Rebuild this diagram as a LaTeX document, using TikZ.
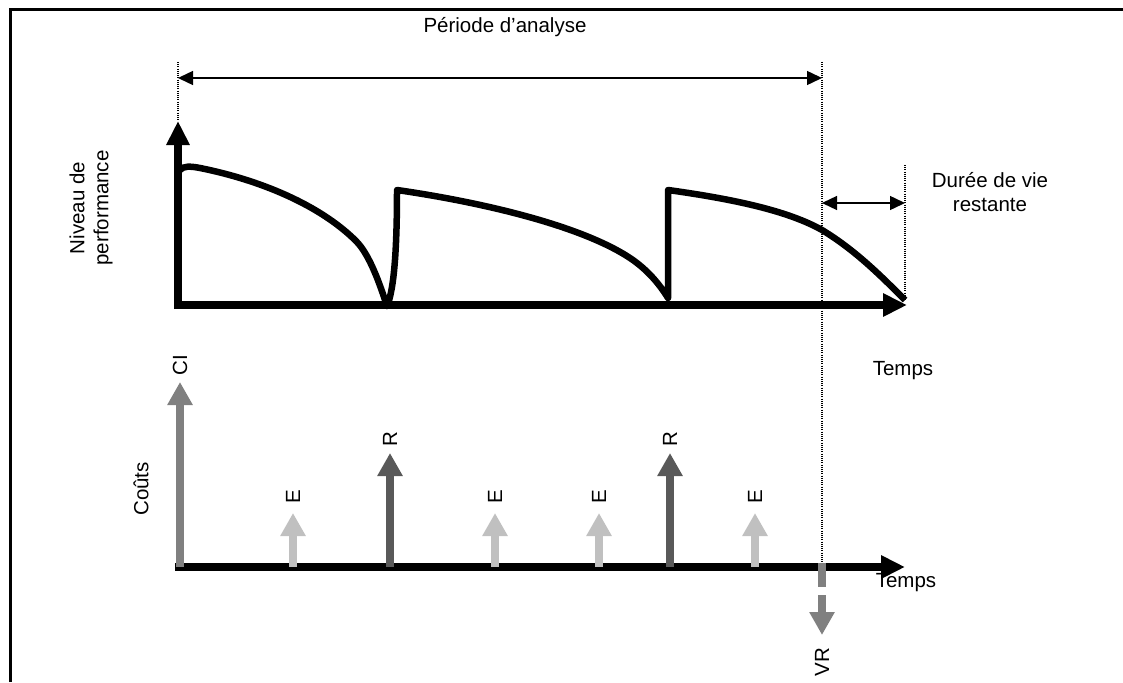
\documentclass[tikz,border=0pt]{standalone}
\usepackage{fontspec}
\setmainfont{Liberation Sans}
\usetikzlibrary{arrows.meta}
\definecolor{cigray}{RGB}{128,128,128}
\definecolor{egray}{RGB}{192,192,192}
\definecolor{rgray}{RGB}{89,89,89}
\begin{document}
\begin{tikzpicture}[x=1pt,y=-1pt,
  lbl/.style={font=\fontsize{20.5}{24}\selectfont, inner sep=0pt, align=center},
  axis/.style={line width=7.5pt, -{Triangle[length=24pt,width=22pt]}},
  perf/.style={line width=6.5pt, line join=round},
  thinarrow/.style={line width=1.4pt, {Triangle[length=15pt,width=14pt]}-{Triangle[length=15pt,width=14pt]}},
  dots/.style={line width=1.4pt, dash pattern=on 1pt off 1.2pt},
  cost/.style={line width=7.5pt, -{Triangle[length=23pt,width=24pt]}},
]
\useasboundingbox (0,0) rectangle (1123,682);
\draw[line width=3pt] (10,682) -- (10,10) -- (1123,10);

% coordinates
\coordinate (Ytop) at (178,121);
\coordinate (Ybot) at (178,309);
\coordinate (Xl) at (175,305);
\coordinate (Xr) at (907,305);
\coordinate (D1a) at (178,62);
\coordinate (D2a) at (822,62);
\coordinate (D2b) at (822,563);
\coordinate (D3a) at (905,165);
\coordinate (D3b) at (905,300);
\coordinate (Pa) at (178,78);
\coordinate (Pb) at (822,78);
\coordinate (Da) at (822,203);
\coordinate (Db) at (905,203);

% dotted guides
\draw[dots] (D1a) -- (Ytop);
\draw[dots] (D2a) -- (D2b);
\draw[dots] (D3a) -- (D3b);

% top arrows
\draw[thinarrow] (Pa) -- (Pb);
\draw[thinarrow] (Da) -- (Db);

% performance axes
\draw[axis] (Ybot) -- (Ytop);
\draw[axis] (Xl) -- (Xr);

% performance curve
\draw[perf] (180,170) .. controls (183,166) and (190,166) .. (200,168)
  .. controls (260,180) and (320,205) .. (356,241)
  .. controls (370,255) and (380,285) .. (387,306)
  .. controls (394,290) and (397,250) .. (397,190)
  .. controls (480,202) and (580,225) .. (630,258)
  .. controls (648,270) and (660,285) .. (668,298)
  -- (668,190)
  .. controls (740,200) and (790,212) .. (822,230)
  .. controls (855,250) and (880,275) .. (905,300);

% labels top
\node[lbl] (titre) at (505,27) {Période d’analyse};
\node[lbl, rotate=90] (niv) at (91,208) {Niveau de\\performance};
\node[lbl] (duree) at (990,192) {Durée de vie\\restante};
\node[lbl, anchor=north] (temps1) at (903,361) {Temps};

% cost axis
\coordinate (Cl) at (175,567);
\coordinate (Cr) at (905,567);
\draw[axis] (Cl) -- (Cr);

% cost arrows
\coordinate (CIb) at (180,567); \coordinate (CIt) at (180,382);
\coordinate (E1b) at (293,567); \coordinate (E1t) at (293,513);
\coordinate (R1b) at (390,567); \coordinate (R1t) at (390,453);
\coordinate (E2b) at (495,567); \coordinate (E2t) at (495,513);
\coordinate (E3b) at (599,567); \coordinate (E3t) at (599,513);
\coordinate (R2b) at (670,567); \coordinate (R2t) at (670,453);
\coordinate (E4b) at (755,567); \coordinate (E4t) at (755,513);
\draw[cost, cigray] (CIb) -- (CIt);
\draw[cost, egray] (E1b) -- (E1t);
\draw[cost, rgray] (R1b) -- (R1t);
\draw[cost, egray] (E2b) -- (E2t);
\draw[cost, egray] (E3b) -- (E3t);
\draw[cost, rgray] (R2b) -- (R2t);
\draw[cost, egray] (E4b) -- (E4t);

% VR
\coordinate (VRa) at (822,563);
\coordinate (VRb) at (822,635);
\draw[cost, cigray, dash pattern=on 24pt off 8pt on 200pt] (VRa) -- (VRb);

% cost labels
\node[lbl, rotate=90] (couts) at (141,489) {Coûts};
\node[lbl, rotate=90] (ci) at (180,365) {CI};
\node[lbl, rotate=90] (e1) at (293,497) {E};
\node[lbl, rotate=90] (r1) at (390,439) {R};
\node[lbl, rotate=90] (e2) at (495,497) {E};
\node[lbl, rotate=90] (e3) at (599,497) {E};
\node[lbl, rotate=90] (r2) at (670,439) {R};
\node[lbl, rotate=90] (e4) at (755,497) {E};
\node[lbl] (temps2) at (906,583) {Temps};
\node[lbl, rotate=90] (vr) at (822,662) {VR};
\end{tikzpicture}
\end{document}
